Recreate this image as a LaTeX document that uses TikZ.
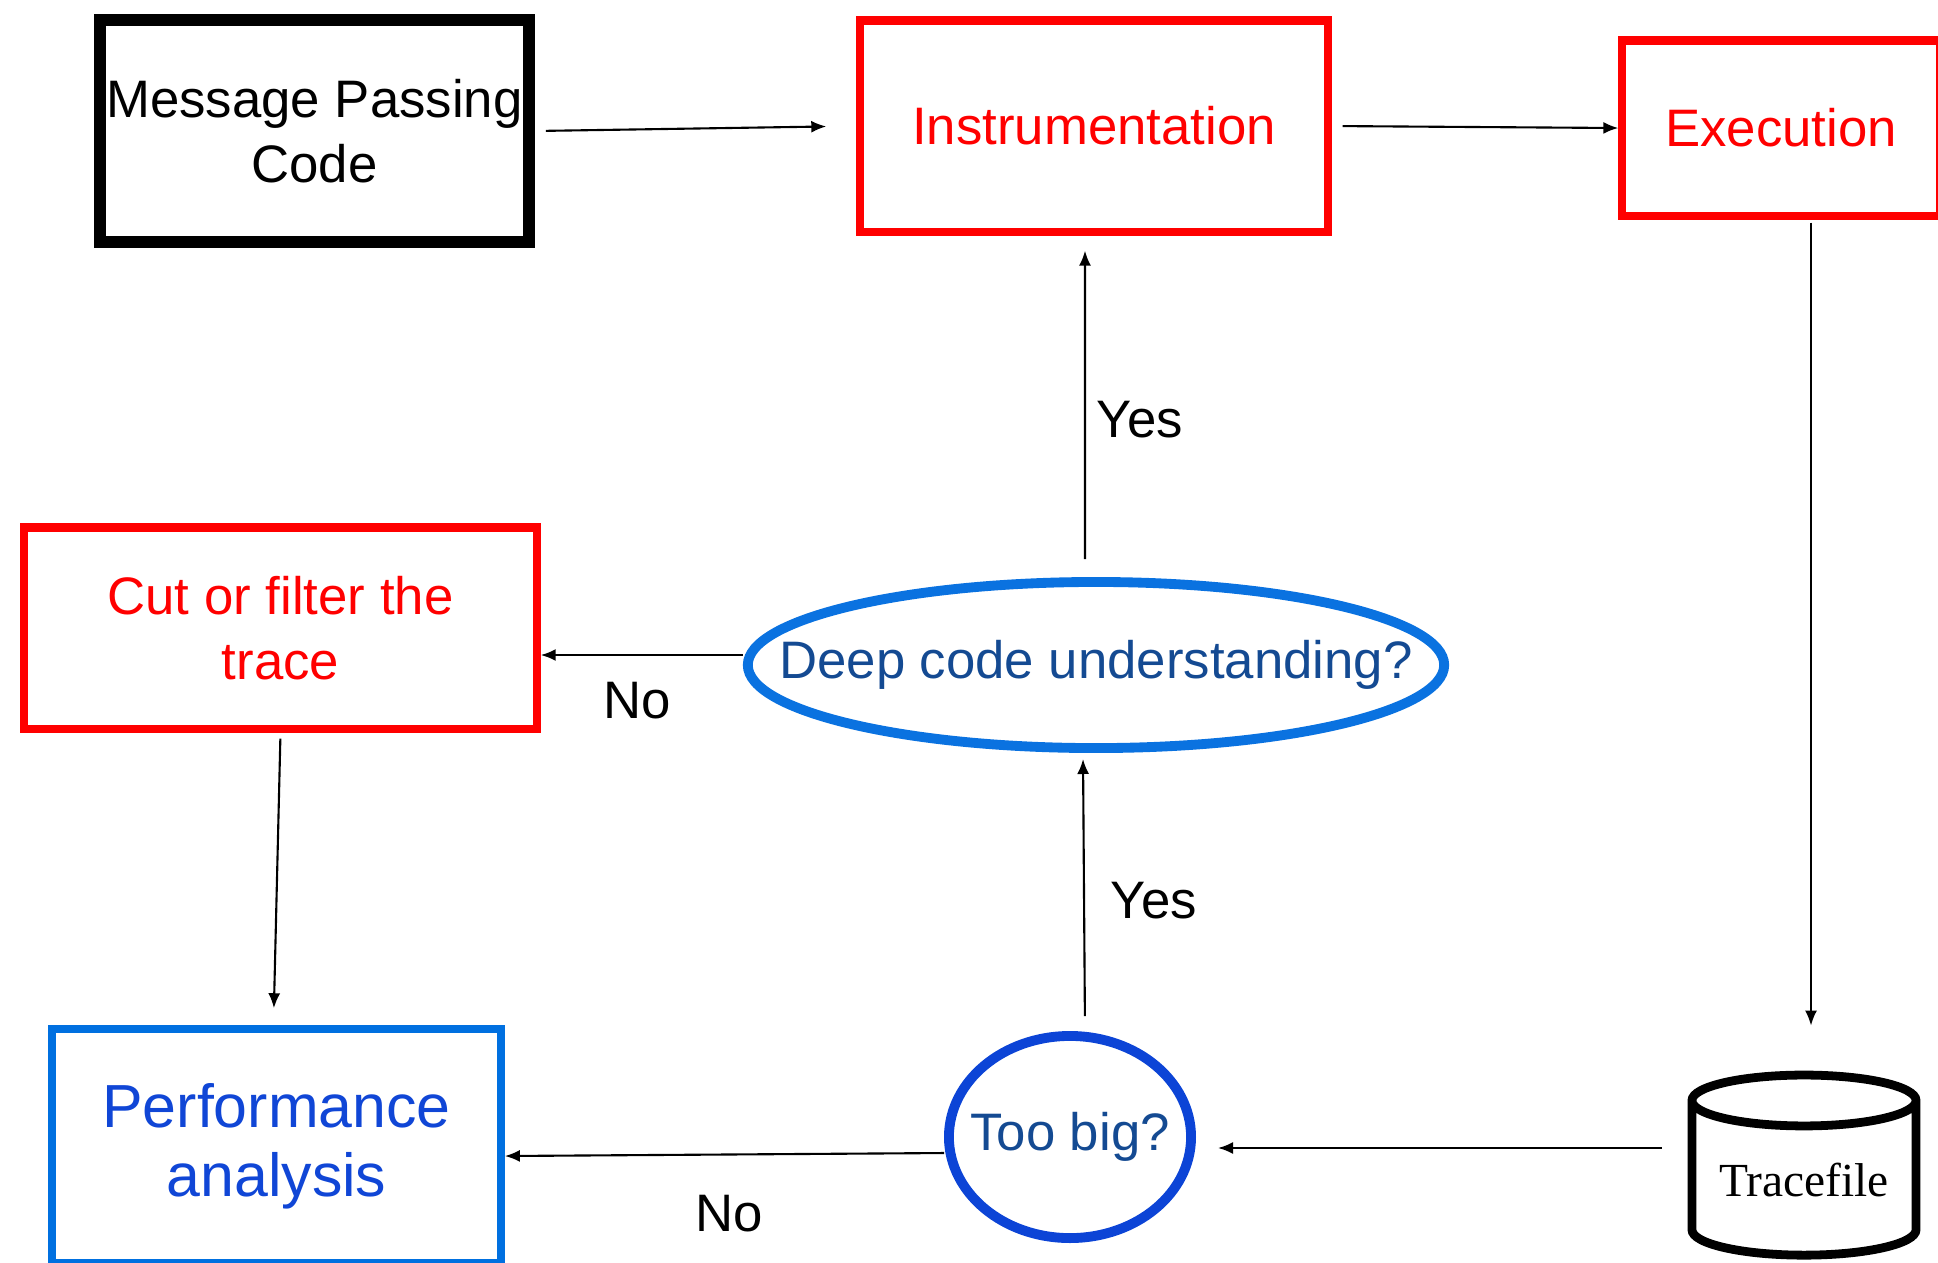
\documentclass[tikz,border=0pt]{standalone}
\usepackage{fontspec}
\setmainfont{Liberation Sans}
\newfontfamily\tracefont{Liberation Serif}
\usetikzlibrary{arrows.meta, shapes.geometric}

\definecolor{stepred}{RGB}{255,0,0}
\definecolor{perfblue}{RGB}{0,112,224}
\definecolor{perftext}{RGB}{16,70,214}
\definecolor{askblue}{RGB}{10,114,224}
\definecolor{bigblue}{RGB}{12,68,214}
\definecolor{asktext}{RGB}{20,74,146}

\tikzset{
    txt/.style={font=\fontsize{15}{18.5}\selectfont},
    codebox/.style={txt, draw=black, line width=3.3pt, align=center, inner sep=0pt},
    redbox/.style={txt, draw=stepred, text=stepred, line width=2.3pt, align=center, inner sep=0pt},
    perfbox/.style={draw=perfblue, text=perftext, line width=2.1pt, align=center, inner sep=0pt,
        font=\fontsize{17.3}{19.6}\selectfont},
    askshape/.style={txt, ellipse, text=asktext, line width=2.8pt, inner sep=0pt},
    flow/.style={-{Latex[length=1.5mm,width=1.2mm]}, line width=0.6pt},
    answer/.style={txt, inner sep=0pt}
}

\begin{document}
\begin{tikzpicture}[x=0.01cm, y=-0.01cm]

\useasboundingbox (0,0) rectangle (1938,1262);

\node[codebox, minimum width=4.29cm, minimum height=2.22cm] (mpc) at (314.5,131) {Message Passing\\Code};
\node[redbox, minimum width=4.67cm, minimum height=2.11cm] (instr) at (1094,126) {\raisebox{-0.6mm}{Instrumentation}};
\node[redbox, minimum width=3.17cm, minimum height=1.75cm] (exec) at (1781,128) {Execution};
\node[redbox, minimum width=5.12cm, minimum height=2.01cm] (cut) at (280.5,628) {Cut or filter the\\trace};
\node[perfbox, minimum width=4.49cm, minimum height=2.34cm] (perf) at (276.5,1146) {Performance\\analysis};

\node[askshape, draw=askblue, minimum width=6.96cm, minimum height=1.66cm] (deep) at (1096,665)
    {\makebox[0pt]{Deep code understanding?}};
\node[askshape, draw=bigblue, minimum width=2.42cm, minimum height=2.02cm] (toobig) at (1070,1137)
    {\makebox[0pt]{Too big?}};

\node[cylinder, shape border rotate=90, draw, line width=2.5pt, aspect=0.3,
    minimum width=2.24cm, minimum height=1.8cm, inner sep=0pt,
    font=\tracefont\fontsize{13.5}{16}\selectfont] (tf) at (1804,1180) {Tracefile};

\draw[flow, shorten <=1.1mm, shorten >=3mm] (mpc.east) -- (instr.west);
\draw[flow, shorten <=1.1mm] (instr.east) -- (exec.west);
\draw[flow, shorten <=0.3mm, shorten >=4.5mm] ([xshift=0.7mm]exec.south -| tf.north) -- ([xshift=0.7mm]tf.north);
\draw[flow, shorten <=2.6mm, shorten >=2.2mm] ([yshift=3.2mm]tf.west) -- ([yshift=3.2mm]tf.west -| toobig.east);
\draw[flow] ([yshift=-1.6mm]toobig.west) -- ([yshift=-1mm]perf.east);
\draw[flow, shorten <=1.5mm, shorten >=0.6mm] ([xshift=1.5mm]toobig.north) -- ([xshift=-1.3mm]deep.south);
\draw[flow, shorten <=1.8mm, shorten >=1.5mm] ([xshift=-1.1mm]deep.north) -- ([xshift=-0.9mm]instr.south);
\draw[flow] ([yshift=1mm]deep.west) -- ([yshift=1mm]deep.west -| cut.east);
\draw[flow, shorten <=0.6mm, shorten >=1.7mm] (cut.south) -- ([xshift=-0.3mm]perf.north);

\node[answer] (yes1) at (1140,420) {Yes};
\node[answer] (yes2) at (1154,901) {Yes};
\node[answer] (no1) at (637,701) {No};
\node[answer] (no2) at (729,1214) {No};

\end{tikzpicture}
\end{document}
